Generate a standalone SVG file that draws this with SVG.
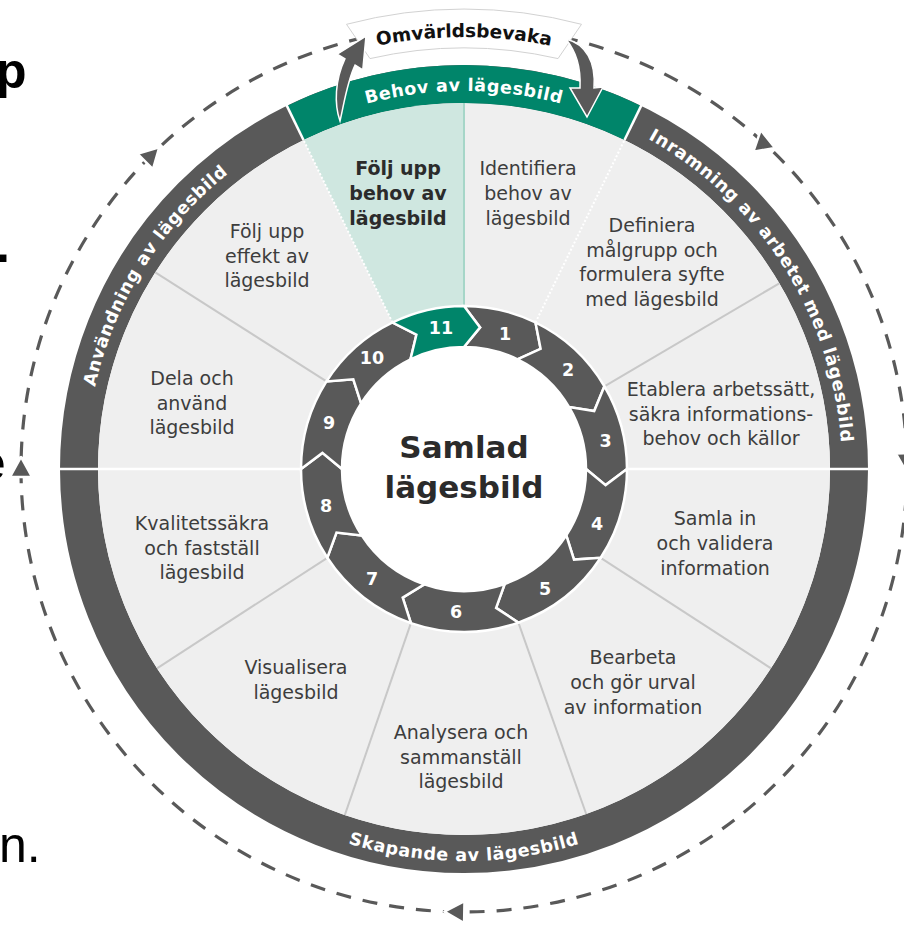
<svg xmlns="http://www.w3.org/2000/svg" width="904" height="930" viewBox="0 0 904 930">
<defs>
<style>
.sec{font-family:"DejaVu Sans","Liberation Sans",sans-serif;font-size:19px;fill:#3d3d3d;text-anchor:middle}
.secb{font-weight:bold;fill:#2b2b2b}
.num{font-family:"DejaVu Sans",sans-serif;font-weight:bold;font-size:17.5px;fill:#fff;text-anchor:middle}
.band{font-family:"DejaVu Sans",sans-serif;font-weight:bold;font-size:17.5px;fill:#fff;letter-spacing:0.6px}
.arrow{fill:#595959;stroke:#fff;stroke-width:2.5;stroke-linejoin:miter}
.tri{fill:#595959;stroke:#fff;stroke-width:2.5;stroke-linejoin:round}
.sep{stroke:#c8c8c8;stroke-width:2;fill:none}
.wsep{stroke:#fff;stroke-width:2.5;fill:none}
.dot{stroke:#fff;stroke-width:2;stroke-dasharray:2 2;fill:none}
.edge{font-family:"Liberation Sans",Arial,sans-serif;font-size:50px;fill:#000}
</style>
<path id="pBehov" d="M221.0,179.5 A378,378 0 0 1 707.0,179.5"/>
<path id="pInram" d="M578.3,108.7 A378,378 0 0 1 838.7,519.0"/>
<path id="pAnv" d="M89.7,521.6 A378,378 0 0 1 347.2,109.5"/>
<path id="pSkap" d="M212.0,769.3 A392,392 0 0 0 716.0,769.3"/>
<path id="pOmv" d="M248,94.9 A432,432 0 0 1 680,94.9"/>
<polygon id="triShape" points="12,0 -8,-11 -8,11"/>
</defs>
<rect width="904" height="930" fill="#fff"/>

<g id="edge-text">
<text class="edge" x="-4" y="88" font-weight="bold">p</text>
<text class="edge" x="-4" y="262" font-weight="bold">.</text>
<text class="edge" x="-22" y="480">e</text>
<text class="edge" x="-1" y="862">n.</text>
</g>

<g id="connectors">
<circle cx="464" cy="469" r="443" fill="none" stroke="#595959" stroke-width="3.2" stroke-dasharray="15 12"/>
</g>

<g id="banner">
<path d="M346.5,24.3 A460,460 0 0 1 581.5,24.3 L558.0,58.6 A421,421 0 0 0 370.0,58.6 Z" fill="#fff" stroke="#d2d2d2" stroke-width="1"/>
</g>

<g id="cycle-markers">
<use href="#triShape" class="tri" transform="translate(21,469) rotate(270)"/>
<use href="#triShape" class="tri" transform="translate(150.8,155.8) rotate(315)"/>
<use href="#triShape" class="tri" transform="translate(456.3,911.9) rotate(181)"/>
<use href="#triShape" class="tri" transform="translate(906.9,461.3) rotate(89)"/>
<use href="#triShape" class="tri" transform="translate(762.8,141.9) rotate(-100)"/>
</g>

<g id="outer-ring">
<circle cx="464" cy="469" r="385" fill="none" stroke="#595959" stroke-width="38"/>
<circle cx="464" cy="469" r="366" fill="#efefef"/>
<path d="M286.9,105.9 A404,404 0 0 1 641.1,105.9 L624.5,140.0 A366,366 0 0 0 303.5,140.0 Z" fill="#00856a"/>
<path d="M464,469 L303.5,140.0 A366,366 0 0 1 464,103 Z" fill="#cfe7e0"/>
</g>

<g id="separators">
<line x1="464" y1="306" x2="464" y2="103" stroke="#a6d6c8" stroke-width="2"/>
<line class="dot" x1="535.5" y1="322.5" x2="624.5" y2="140.0"/>
<line class="wsep" x1="624.5" y1="140.0" x2="641.6" y2="104.9"/>
<line class="sep" x1="604.4" y1="386.3" x2="779.3" y2="283.3"/>
<line class="wsep" x1="627" y1="469" x2="869" y2="469"/>
<line class="sep" x1="600.7" y1="557.8" x2="771.0" y2="668.3"/>
<line class="sep" x1="518.4" y1="622.6" x2="586.2" y2="814.0"/>
<line class="sep" x1="410.9" y1="623.1" x2="344.8" y2="815.1"/>
<line class="sep" x1="327.3" y1="557.8" x2="157.0" y2="668.3"/>
<line class="wsep" x1="301" y1="469" x2="59" y2="469"/>
<line class="sep" x1="326.5" y1="381.4" x2="155.3" y2="272.3"/>
<line class="dot" x1="392.5" y1="322.5" x2="303.5" y2="140.0"/>
<line class="wsep" x1="303.5" y1="140.0" x2="286.4" y2="104.9"/>
</g>

<g id="band-labels">
<text class="band" font-size="18" letter-spacing="0"><textPath href="#pBehov" startOffset="50%" text-anchor="middle">Behov av lägesbild</textPath></text>
<text class="band"><textPath href="#pInram" startOffset="50%" text-anchor="middle">Inramning av arbetet med lägesbild</textPath></text>
<text class="band"><textPath href="#pAnv" startOffset="50%" text-anchor="middle">Användning av lägesbild</textPath></text>
<text class="band"><textPath href="#pSkap" startOffset="50%" text-anchor="middle">Skapande av lägesbild</textPath></text>
</g>

<g id="step-ring">
<circle cx="464" cy="469" r="122" fill="#fff"/>
<g id="step-1"><path class="arrow" d="M464,306 A163,163 0 0 1 535.5,322.5 L540.6,348.8 L517.5,359.3 A122,122 0 0 0 464,347 L480.1,327.4 Z"/><text class="num" x="505" y="340">1</text></g>
<g id="step-2"><path class="arrow" d="M535.5,322.5 A163,163 0 0 1 604.4,386.3 L594.2,411.0 L569.1,407.1 A122,122 0 0 0 517.5,359.3 L540.6,348.8 Z"/><text class="num" x="568" y="376">2</text></g>
<g id="step-3"><path class="arrow" d="M604.4,386.3 A163,163 0 0 1 627,469 L605.6,485.1 L586,469 A122,122 0 0 0 569.1,407.1 L594.2,411.0 Z"/><text class="num" x="605.5" y="447">3</text></g>
<g id="step-4"><path class="arrow" d="M627,469 A163,163 0 0 1 600.7,557.8 L574.0,559.6 L566.3,535.4 A122,122 0 0 0 586,469 L605.6,485.1 Z"/><text class="num" x="597" y="530">4</text></g>
<g id="step-5"><path class="arrow" d="M600.7,557.8 A163,163 0 0 1 518.4,622.6 L496.1,607.9 L504.7,584.0 A122,122 0 0 0 566.3,535.4 L574.0,559.6 Z"/><text class="num" x="545" y="595">5</text></g>
<g id="step-6"><path class="arrow" d="M518.4,622.6 A163,163 0 0 1 410.9,623.1 L402.7,597.6 L424.3,584.4 A122,122 0 0 0 504.7,584.0 L496.1,607.9 Z"/><text class="num" x="456" y="618">6</text></g>
<g id="step-7"><path class="arrow" d="M410.9,623.1 A163,163 0 0 1 327.3,557.8 L336.5,532.6 L361.7,535.4 A122,122 0 0 0 424.3,584.4 L402.7,597.6 Z"/><text class="num" x="372" y="585">7</text></g>
<g id="step-8"><path class="arrow" d="M327.3,557.8 A163,163 0 0 1 301,469 L322.4,452.9 L342,469 A122,122 0 0 0 361.7,535.4 L336.5,532.6 Z"/><text class="num" x="326" y="512">8</text></g>
<g id="step-9"><path class="arrow" d="M301,469 A163,163 0 0 1 326.5,381.4 L353.3,379.3 L361.1,403.4 A122,122 0 0 0 342,469 L322.4,452.9 Z"/><text class="num" x="329" y="429">9</text></g>
<g id="step-10"><path class="arrow" d="M326.5,381.4 A163,163 0 0 1 392.5,322.5 L416.4,334.7 L410.5,359.3 A122,122 0 0 0 361.1,403.4 L353.3,379.3 Z"/><text class="num" x="372" y="364">10</text></g>
<g id="step-11"><path class="arrow" style="fill:#00856a" d="M392.5,322.5 A163,163 0 0 1 464,306 L480.1,327.4 L464,347 A122,122 0 0 0 410.5,359.3 L416.4,334.7 Z"/><text class="num" x="441" y="334">11</text></g>
</g>

<g id="center">
<text x="464" y="458" font-family="DejaVu Sans, sans-serif" font-weight="bold" font-size="31" fill="#2b2b2b" text-anchor="middle">Samlad</text>
<text x="464" y="498" font-family="DejaVu Sans, sans-serif" font-weight="bold" font-size="31" fill="#2b2b2b" text-anchor="middle">lägesbild</text>
</g>

<g id="sector-texts">
<g id="s11"><text class="sec secb"><tspan x="398" y="175">Följ upp</tspan><tspan x="398" y="200">behov av</tspan><tspan x="398" y="225">lägesbild</tspan></text></g>
<g id="s1"><text class="sec"><tspan x="528" y="175">Identifiera</tspan><tspan x="528" y="200">behov av</tspan><tspan x="528" y="225">lägesbild</tspan></text></g>
<g id="s2"><text class="sec"><tspan x="652" y="232">Definiera</tspan><tspan x="652" y="256.7">målgrupp och</tspan><tspan x="652" y="281.4">formulera syfte</tspan><tspan x="652" y="306">med lägesbild</tspan></text></g>
<g id="s3"><text class="sec"><tspan x="721" y="396">Etablera arbetssätt,</tspan><tspan x="721" y="420.5">säkra informations-</tspan><tspan x="721" y="445">behov och källor</tspan></text></g>
<g id="s4"><text class="sec"><tspan x="715" y="525">Samla in</tspan><tspan x="715" y="550">och validera</tspan><tspan x="715" y="575">information</tspan></text></g>
<g id="s5"><text class="sec"><tspan x="633" y="664">Bearbeta</tspan><tspan x="633" y="689">och gör urval</tspan><tspan x="633" y="714">av information</tspan></text></g>
<g id="s6"><text class="sec"><tspan x="461" y="739">Analysera och</tspan><tspan x="461" y="763.5">sammanställ</tspan><tspan x="461" y="788">lägesbild</tspan></text></g>
<g id="s7"><text class="sec"><tspan x="296" y="674">Visualisera</tspan><tspan x="296" y="698.5">lägesbild</tspan></text></g>
<g id="s8"><text class="sec"><tspan x="202" y="530">Kvalitetssäkra</tspan><tspan x="202" y="554.5">och fastställ</tspan><tspan x="202" y="579">lägesbild</tspan></text></g>
<g id="s9"><text class="sec"><tspan x="192" y="385">Dela och</tspan><tspan x="192" y="409.5">använd</tspan><tspan x="192" y="434">lägesbild</tspan></text></g>
<g id="s10"><text class="sec"><tspan x="267" y="238">Följ upp</tspan><tspan x="267" y="262.5">effekt av</tspan><tspan x="267" y="287">lägesbild</tspan></text></g>
</g>

<g id="omvarld-arrows">
<path d="M340,121 C334,104 335,80 344.9,58.9 L337.2,54.2 L366,36 L362.8,69.8 L355.1,65.1 C347,82 344,104 340,121 Z" fill="#595959" stroke="#fff" stroke-width="1.5"/>
<path d="M566,39 C586,44 596,62 594,88 L603,87 L587,117 L570,88 L580,88 C581,66 576,52 566,39 Z" fill="#595959" stroke="#fff" stroke-width="1.5"/>
</g>

<g id="omvarld-label">
<text font-family="DejaVu Sans, sans-serif" font-weight="bold" font-size="18.5" fill="#111"><textPath href="#pOmv" startOffset="50%" text-anchor="middle">Omvärldsbevaka</textPath></text>
</g>
</svg>
